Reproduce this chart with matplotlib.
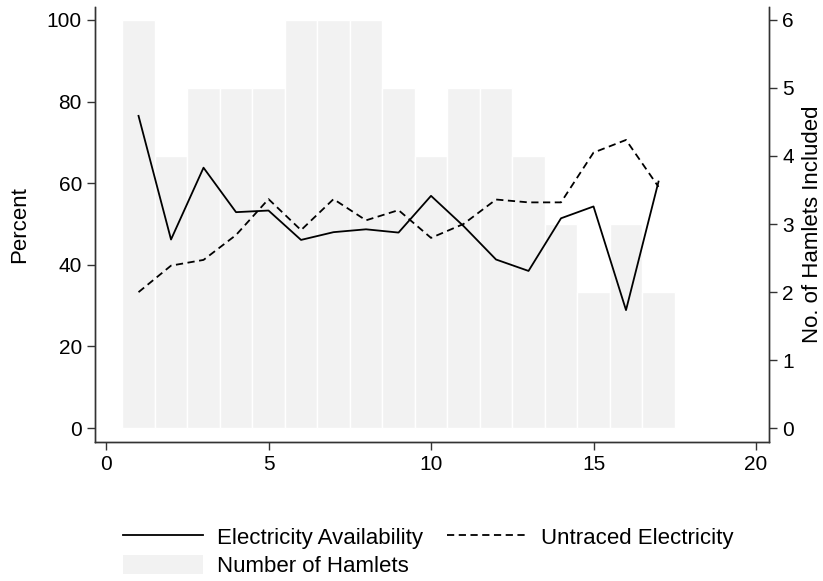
import matplotlib
matplotlib.use("Agg")
import matplotlib.pyplot as plt
from matplotlib.patches import Patch
from matplotlib.lines import Line2D

plt.rcParams['font.family'] = ['Liberation Sans', 'DejaVu Sans']

# data
rounds = list(range(1, 18))
hamlets = [6, 4, 5, 5, 5, 6, 6, 6, 5, 4, 5, 5, 4, 3, 2, 3, 2]
elec_avail = [76.5, 46.2, 63.8, 52.9, 53.3, 46.1, 48.0, 48.7, 47.9, 56.9,
              49.5, 41.3, 38.5, 51.4, 54.3, 28.9, 60.4]
untraced = [33.3, 39.8, 41.2, 47.3, 56.1, 48.5, 56.1, 50.9, 53.4, 46.6,
            50.0, 56.0, 55.3, 55.3, 67.5, 70.6, 59.1]

left_ticks = [0, 20, 40, 60, 80, 100]
right_ticks = [0, 1, 2, 3, 4, 5, 6]
x_ticks = [0, 5, 10, 15, 20]

fig = plt.figure(figsize=(8.23, 5.81), dpi=100)
ax = fig.add_axes([0.1154, 0.2401, 0.819, 0.748])
ax2 = ax.twinx()

# bars behind, lines on top
ax2.bar(rounds, hamlets, width=1.0, color='#f2f2f2', edgecolor='white', linewidth=1)
ax.set_zorder(ax2.get_zorder() + 1)
ax.patch.set_visible(False)

dash = (0, (4, 2.5))
ax.plot(rounds, elec_avail, color='black', lw=1.3)
ax.plot(rounds, untraced, color='black', lw=1.3, ls=dash)

ylo, yhi = -3.3, 103.2
ax.set_ylim(ylo, yhi)
ax2.set_ylim(ylo * 0.06, yhi * 0.06)
ax.set_xlim(-0.34, 20.4)

ax.set_yticks(left_ticks)
ax2.set_yticks(right_ticks)
ax.set_xticks(x_ticks)

for a in (ax, ax2):
    a.spines['top'].set_visible(False)
    for s in ('left', 'right', 'bottom'):
        a.spines[s].set_color('#333333')
        a.spines[s].set_linewidth(1.0)
    a.tick_params(direction='out', length=5.8, width=1, color='#333333', labelsize=15, pad=3.6)

ax.set_ylabel('Percent', fontsize=16, labelpad=12)
ax2.set_ylabel('No. of Hamlets Included', fontsize=16, labelpad=6)

handles = [Line2D([], [], color='black', lw=1.3),
           Patch(facecolor='#f2f2f2', edgecolor='none'),
           Line2D([], [], color='black', lw=1.3, ls=dash)]
labels = ['Electricity Availability', 'Number of Hamlets', 'Untraced Electricity']
fig.legend(handles, labels, ncol=2, frameon=False, fontsize=16,
           loc='upper left', bbox_to_anchor=(0.1495, 0.094),
           bbox_transform=fig.transFigure,
           handlelength=3.6, handleheight=0.95, handletextpad=0.63,
           columnspacing=1.08, labelspacing=0.3, borderpad=0, borderaxespad=0)

fig.savefig('out.png', dpi=100)
